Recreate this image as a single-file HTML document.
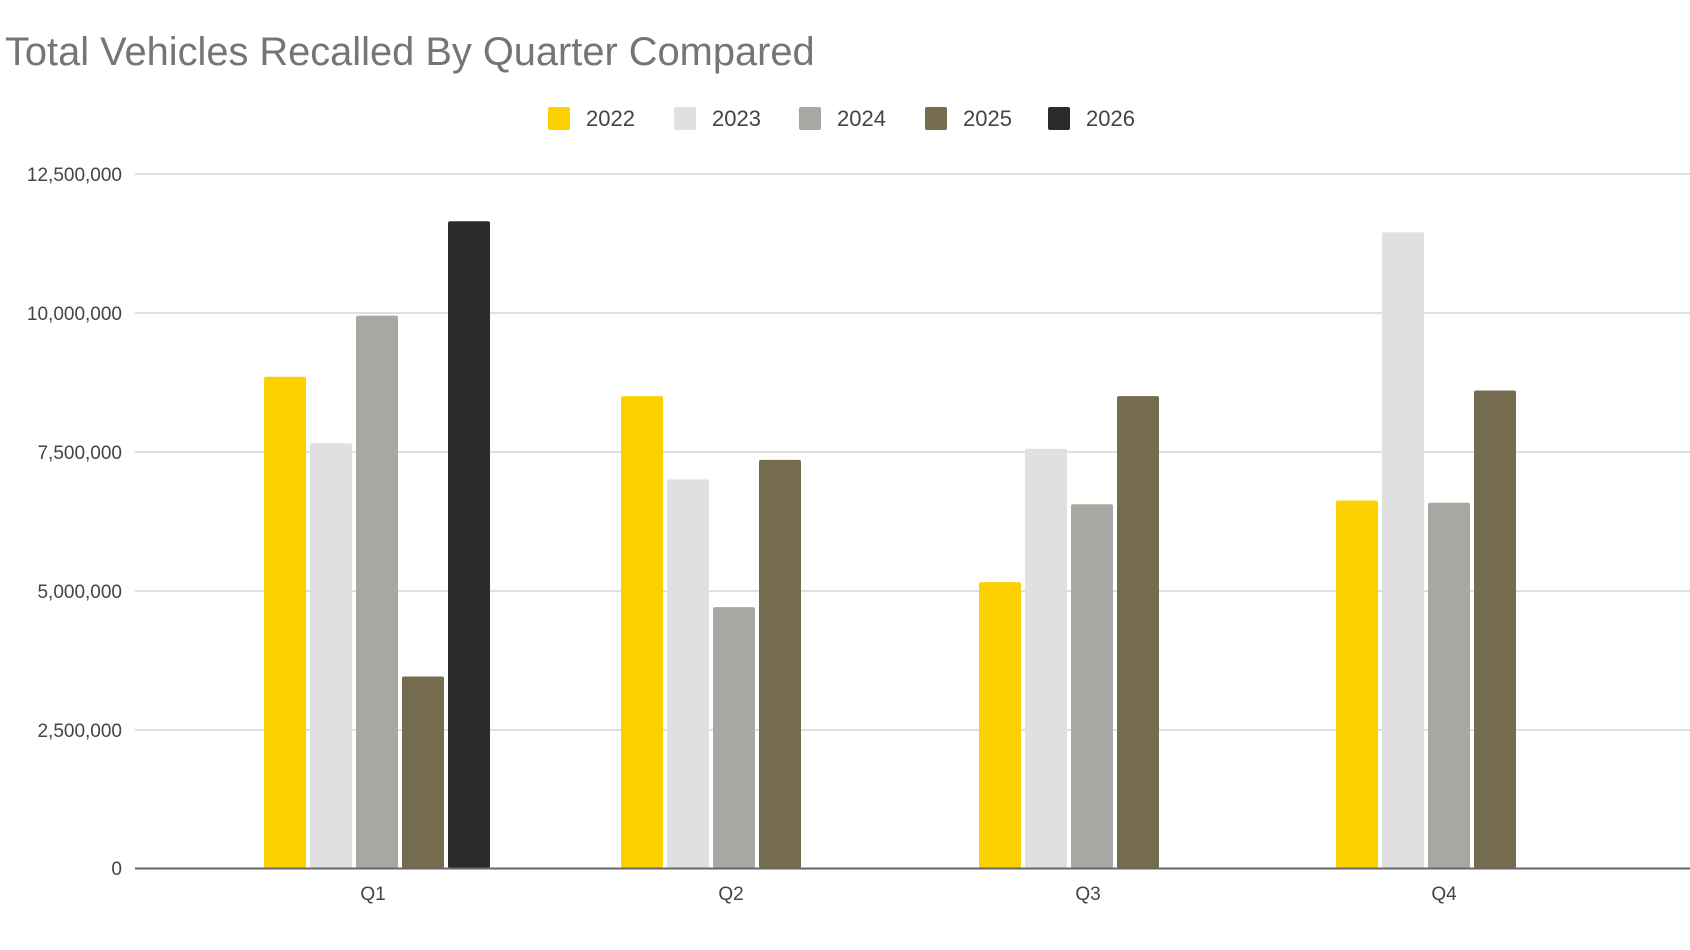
<!DOCTYPE html>
<html><head><style>
body{margin:0;background:#fff;}
svg{display:block;font-family:"Liberation Sans",Arial,sans-serif;}
</style></head><body>
<svg width="1690" height="950" viewBox="0 0 1690 950">
<text x="5" y="65" font-size="39.8" fill="#757575">Total Vehicles Recalled By Quarter Compared</text>
<g font-size="22" fill="#444">
<rect x="548" y="107" width="22" height="23" rx="2" fill="#FDD000"/><text x="586" y="126">2022</text>
<rect x="674" y="107" width="22" height="23" rx="2" fill="#E0E0E0"/><text x="712" y="126">2023</text>
<rect x="799" y="107" width="22" height="23" rx="2" fill="#A8A8A2"/><text x="837" y="126">2024</text>
<rect x="925" y="107" width="22" height="23" rx="2" fill="#756B4E"/><text x="963" y="126">2025</text>
<rect x="1048" y="107" width="22" height="23" rx="2" fill="#2B2B2B"/><text x="1086" y="126">2026</text>
</g>
<g stroke="#d6d6d6" stroke-width="1.5">
<line x1="135" x2="1690" y1="174" y2="174"/>
<line x1="135" x2="1690" y1="313" y2="313"/>
<line x1="135" x2="1690" y1="452" y2="452"/>
<line x1="135" x2="1690" y1="591" y2="591"/>
<line x1="135" x2="1690" y1="730" y2="730"/>
</g>
<g font-size="19" fill="#444" text-anchor="end">
<text x="122" y="181">12,500,000</text>
<text x="122" y="320">10,000,000</text>
<text x="122" y="459">7,500,000</text>
<text x="122" y="598">5,000,000</text>
<text x="122" y="737">2,500,000</text>
<text x="122" y="875">0</text>
</g>
<g>
<rect x="264" y="376.7" width="42" height="491.3" rx="2" fill="#FDD000"/>
<rect x="310" y="443.3" width="42" height="424.7" rx="2" fill="#E0E0E0"/>
<rect x="356" y="315.6" width="42" height="552.4" rx="2" fill="#A8A8A2"/>
<rect x="402" y="676.5" width="42" height="191.5" rx="2" fill="#756B4E"/>
<rect x="448" y="221.2" width="42" height="646.8" rx="2" fill="#2B2B2B"/>

<rect x="621" y="396.1" width="42" height="471.9" rx="2" fill="#FDD000"/>
<rect x="667" y="479.4" width="42" height="388.6" rx="2" fill="#E0E0E0"/>
<rect x="713" y="607.1" width="42" height="260.9" rx="2" fill="#A8A8A2"/>
<rect x="759" y="459.9" width="42" height="408.1" rx="2" fill="#756B4E"/>

<rect x="979" y="582.1" width="42" height="285.9" rx="2" fill="#FDD000"/>
<rect x="1025" y="448.8" width="42" height="419.2" rx="2" fill="#E0E0E0"/>
<rect x="1071" y="504.3" width="42" height="363.7" rx="2" fill="#A8A8A2"/>
<rect x="1117" y="396.1" width="42" height="471.9" rx="2" fill="#756B4E"/>

<rect x="1336" y="500.5" width="42" height="367.5" rx="2" fill="#FDD000"/>
<rect x="1382" y="232.3" width="42" height="635.7" rx="2" fill="#E0E0E0"/>
<rect x="1428" y="502.7" width="42" height="365.3" rx="2" fill="#A8A8A2"/>
<rect x="1474" y="390.5" width="42" height="477.5" rx="2" fill="#756B4E"/>
</g>
<line x1="135" x2="1690" y1="868.5" y2="868.5" stroke="#666" stroke-width="2"/>
<g font-size="19" fill="#444" text-anchor="middle">
<text x="373" y="900">Q1</text><text x="731" y="900">Q2</text><text x="1088" y="900">Q3</text><text x="1444" y="900">Q4</text>
</g>
</svg>
</body></html>
